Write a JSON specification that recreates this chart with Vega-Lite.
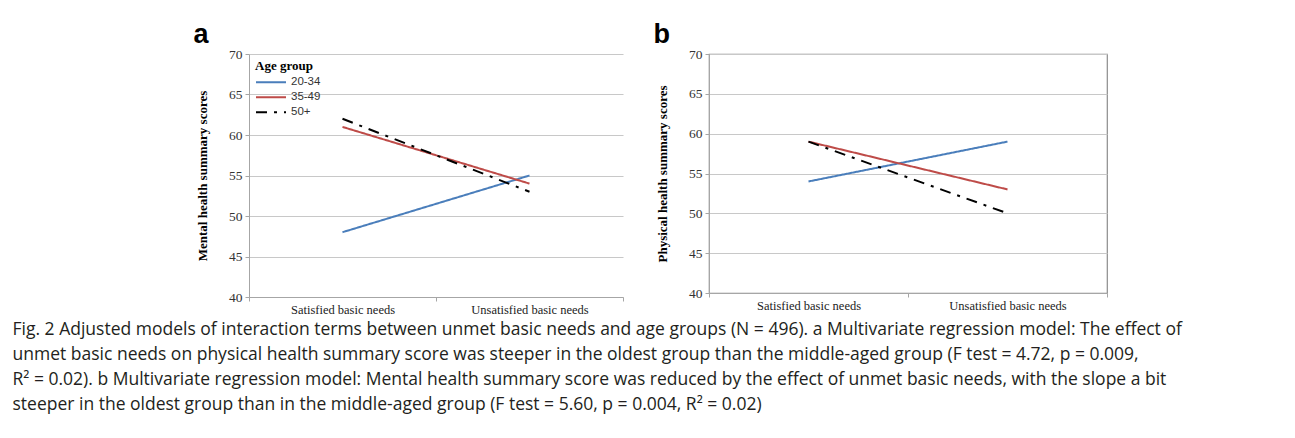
{
  "$schema": "https://vega.github.io/schema/vega-lite/v6.json",
  "background": "white",
  "padding": {"left": 12, "top": 20, "right": 5, "bottom": 5},
  "config": {
    "font": "Liberation Serif",
    "view": {"stroke": null},
    "concat": {"spacing": 28}
  },
  "title": {
    "text": [
      "Fig. 2 Adjusted models of interaction terms between unmet basic needs and age groups (N = 496). a Multivariate regression model: The effect of",
      "unmet basic needs on physical health summary score was steeper in the oldest group than the middle-aged group (F test = 4.72, p = 0.009,",
      "R² = 0.02). b Multivariate regression model: Mental health summary score was reduced by the effect of unmet basic needs, with the slope a bit",
      "steeper in the oldest group than in the middle-aged group (F test = 5.60, p = 0.004, R² = 0.02)"
    ],
    "orient": "bottom",
    "anchor": "start",
    "frame": "bounds",
    "dx": -181,
    "offset": 5,
    "font": "Open Sans",
    "fontSize": 17.5,
    "fontWeight": "normal",
    "lineHeight": 25,
    "color": "#231f20"
  },
  "datasets": {
    "mental": [
      {"group": "20-34", "need": "Satisfied basic needs", "score": 48},
      {"group": "20-34", "need": "Unsatisfied basic needs", "score": 55},
      {"group": "35-49", "need": "Satisfied basic needs", "score": 61},
      {"group": "35-49", "need": "Unsatisfied basic needs", "score": 54},
      {"group": "50+", "need": "Satisfied basic needs", "score": 62},
      {"group": "50+", "need": "Unsatisfied basic needs", "score": 53}
    ],
    "physical": [
      {"group": "20-34", "need": "Satisfied basic needs", "score": 54},
      {"group": "20-34", "need": "Unsatisfied basic needs", "score": 59},
      {"group": "35-49", "need": "Satisfied basic needs", "score": 59},
      {"group": "35-49", "need": "Unsatisfied basic needs", "score": 53},
      {"group": "50+", "need": "Satisfied basic needs", "score": 59},
      {"group": "50+", "need": "Unsatisfied basic needs", "score": 50}
    ]
  },
  "hconcat": [
    {
      "title": {"text": "a", "anchor": "start", "font": "Liberation Sans", "fontSize": 27, "fontWeight": "bold", "color": "#000", "offset": -2, "dx": -3},
      "width": 374,
      "height": 243,
      "data": {"name": "mental"},
      "mark": {"type": "line", "strokeCap": "butt"},
      "encoding": {
        "x": {
          "field": "need", "type": "nominal", "bandPosition": 0.5,
          "sort": ["Satisfied basic needs", "Unsatisfied basic needs"],
          "scale": {"type": "band", "paddingInner": 0, "paddingOuter": 0},
          "axis": {"title": null, "labelAngle": 0, "tickBand": "extent", "grid": false, "domainColor": "#a6a6a6", "tickColor": "#a6a6a6", "tickSize": 4, "labelFont": "Liberation Serif", "labelFontSize": 12.5, "labelColor": "#222", "labelPadding": 2}
        },
        "y": {
          "field": "score", "type": "quantitative",
          "scale": {"domain": [40, 70], "nice": false, "zero": false},
          "axis": {"values": [40, 45, 50, 55, 60, 65, 70], "title": "Mental health summary scores", "titleFont": "Liberation Serif", "titleFontSize": 13, "titleFontWeight": "bold", "titleColor": "#000", "titlePadding": 19, "labelFont": "Liberation Serif", "labelFontSize": 13.5, "labelColor": "#333", "labelPadding": 3, "tickSize": 4, "tickColor": "#a6a6a6", "domainColor": "#a6a6a6", "gridColor": "#c8c8c8", "gridWidth": 1.2}
        },
        "color": {
          "field": "group", "type": "nominal",
          "scale": {"domain": ["20-34", "35-49", "50+"], "range": ["#4A7EBB", "#BE4B48", "#000000"]},
          "legend": {"title": "Age group", "orient": "top-left", "offset": 6, "padding": 0, "titleFont": "Liberation Serif", "titleFontSize": 13, "titleFontWeight": "bold", "titleColor": "#000", "titlePadding": 2, "labelFont": "Liberation Sans", "labelFontSize": 11.5, "labelColor": "#333", "symbolType": "stroke", "symbolSize": 900, "clipHeight": 14.5, "rowPadding": 0, "labelOffset": 4}
        },
        "strokeDash": {
          "field": "group", "type": "nominal",
          "scale": {"domain": ["20-34", "35-49", "50+"], "range": [[1, 0], [1, 0], [11, 7, 3, 7]]},
          "legend": {"title": "Age group", "orient": "top-left", "offset": 6, "padding": 0, "titleFont": "Liberation Serif", "titleFontSize": 13, "titleFontWeight": "bold", "titleColor": "#000", "titlePadding": 2, "labelFont": "Liberation Sans", "labelFontSize": 11.5, "labelColor": "#333", "symbolType": "stroke", "symbolSize": 900, "clipHeight": 14.5, "rowPadding": 0, "labelOffset": 4}
        },
        "strokeWidth": {
          "field": "group", "type": "nominal",
          "scale": {"domain": ["20-34", "35-49", "50+"], "range": [2, 2, 3.5]},
          "legend": {"title": "Age group", "orient": "top-left", "offset": 6, "padding": 0, "titleFont": "Liberation Serif", "titleFontSize": 13, "titleFontWeight": "bold", "titleColor": "#000", "titlePadding": 2, "labelFont": "Liberation Sans", "labelFontSize": 11.5, "labelColor": "#333", "symbolType": "stroke", "symbolSize": 900, "clipHeight": 14.5, "rowPadding": 0, "labelOffset": 4}
        }
      }
    },
    {
      "title": {"text": "b", "anchor": "start", "font": "Liberation Sans", "fontSize": 27, "fontWeight": "bold", "color": "#000", "offset": -2, "dx": -3},
      "width": 398,
      "height": 239,
      "data": {"name": "physical"},
      "mark": {"type": "line", "strokeCap": "butt"},
      "view": {"stroke": "#8c8c8c", "strokeWidth": 1.2},
      "encoding": {
        "x": {
          "field": "need", "type": "nominal", "bandPosition": 0.5,
          "sort": ["Satisfied basic needs", "Unsatisfied basic needs"],
          "scale": {"type": "band", "paddingInner": 0, "paddingOuter": 0},
          "axis": {"title": null, "labelAngle": 0, "tickBand": "extent", "grid": false, "domainColor": "#a6a6a6", "tickColor": "#a6a6a6", "tickSize": 4, "labelFont": "Liberation Serif", "labelFontSize": 12.5, "labelColor": "#222", "labelPadding": 2}
        },
        "y": {
          "field": "score", "type": "quantitative",
          "scale": {"domain": [40, 70], "nice": false, "zero": false},
          "axis": {"values": [40, 45, 50, 55, 60, 65, 70], "title": "Physical health summary scores", "titleFont": "Liberation Serif", "titleFontSize": 13, "titleFontWeight": "bold", "titleColor": "#000", "titlePadding": 19, "labelFont": "Liberation Serif", "labelFontSize": 13.5, "labelColor": "#333", "labelPadding": 3, "tickSize": 4, "tickColor": "#a6a6a6", "domainColor": "#a6a6a6", "gridColor": "#c8c8c8", "gridWidth": 1.2}
        },
        "color": {
          "field": "group", "type": "nominal",
          "scale": {"domain": ["20-34", "35-49", "50+"], "range": ["#4A7EBB", "#BE4B48", "#000000"]},
          "legend": {"title": "Age group", "orient": "top-left", "offset": 8, "padding": 0, "titleFont": "Liberation Serif", "titleFontSize": 13, "titleFontWeight": "bold", "titleColor": "#000", "titlePadding": 3, "labelFont": "Liberation Serif", "labelFontSize": 12.5, "labelColor": "#333", "symbolType": "stroke", "symbolSize": 900, "clipHeight": 14.5, "rowPadding": 0, "labelOffset": 4}
        },
        "strokeDash": {
          "field": "group", "type": "nominal",
          "scale": {"domain": ["20-34", "35-49", "50+"], "range": [[1, 0], [1, 0], [11, 7, 3, 7]]},
          "legend": {"title": "Age group", "orient": "top-left", "offset": 8, "padding": 0, "titleFont": "Liberation Serif", "titleFontSize": 13, "titleFontWeight": "bold", "titleColor": "#000", "titlePadding": 3, "labelFont": "Liberation Serif", "labelFontSize": 12.5, "labelColor": "#333", "symbolType": "stroke", "symbolSize": 900, "clipHeight": 14.5, "rowPadding": 0, "labelOffset": 4}
        },
        "strokeWidth": {
          "field": "group", "type": "nominal",
          "scale": {"domain": ["20-34", "35-49", "50+"], "range": [2, 2, 3.5]},
          "legend": {"title": "Age group", "orient": "top-left", "offset": 8, "padding": 0, "titleFont": "Liberation Serif", "titleFontSize": 13, "titleFontWeight": "bold", "titleColor": "#000", "titlePadding": 3, "labelFont": "Liberation Serif", "labelFontSize": 12.5, "labelColor": "#333", "symbolType": "stroke", "symbolSize": 900, "clipHeight": 14.5, "rowPadding": 0, "labelOffset": 4}
        }
      }
    }
  ]
}
